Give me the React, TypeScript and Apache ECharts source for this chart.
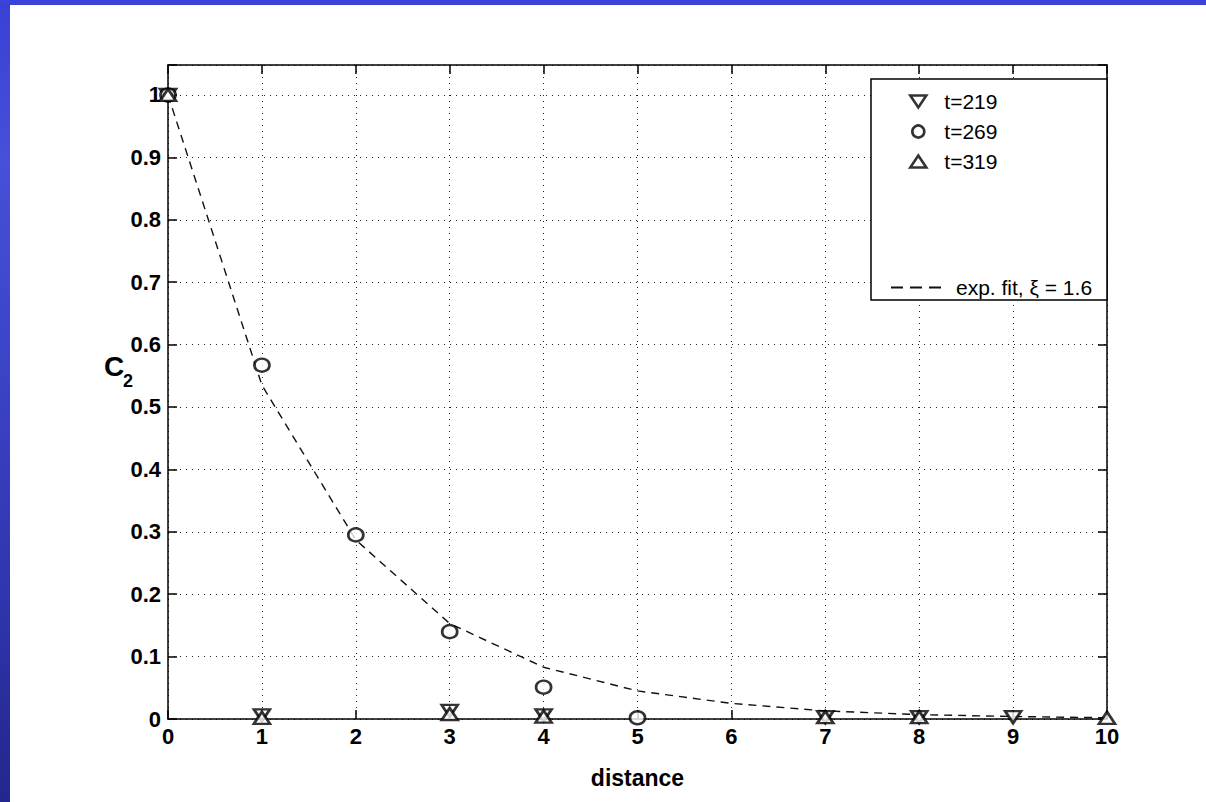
import React, { useEffect, useRef } from "react";
import * as echarts from "echarts";

// Correlation C2 versus distance for three times, with an exponential fit
const xTicks = [0, 1, 2, 3, 4, 5, 6, 7, 8, 9, 10];
const t219X = [0, 1, 3, 4, 7, 8, 9];
const t219Y = [1, 0.006, 0.013, 0.006, 0.003, 0.003, 0.003];
const t269X = [0, 1, 2, 3, 4, 5];
const t269Y = [1, 0.567, 0.295, 0.14, 0.051, 0.002];
const t319X = [0, 1, 3, 4, 7, 8, 10];
const t319Y = [1, 0.002, 0.008, 0.004, 0.003, 0.003, 0.002];
const fitX = xTicks;
const fitY = [1, 0.535, 0.287, 0.153, 0.083, 0.045, 0.025, 0.013, 0.007, 0.004, 0.002];

const zip = (xs: number[], ys: number[]) => xs.map((x, i) => [x, ys[i]]);

const FONT = "'Liberation Sans', Arial, sans-serif";

const DOWN_TRI = "path://M0,0 L16,0 L8,12 Z";
const UP_TRI = "path://M8,0 L16,12 L0,12 Z";
const DASHES = "path://M0,0h12v2h-12zM19,0h12v2h-12zM38,0h12v2h-12z";

export default function App() {
  const ref = useRef<HTMLDivElement>(null);

  useEffect(() => {
    if (!ref.current) return;
    const chart = echarts.init(ref.current, null, { renderer: "svg" });

    const markerStyle = {
      color: "#ffffff",
      borderColor: "#000000",
      borderWidth: 2.6,
    };

    const tickLabel = {
      color: "#000",
      fontFamily: FONT,
      fontSize: 22,
      fontWeight: "bold" as const,
    };

    const yFmt = (v: number) => {
      const r = Math.round(v * 10) / 10;
      if (Math.abs(v - r) > 1e-6) return "";
      return String(r);
    };

    const axisLine = { show: true, onZero: false, lineStyle: { color: "#000", width: 1.5 } };
    const axisTick = { show: true, inside: true, length: 9, lineStyle: { color: "#000", width: 1.5 } };
    const grid = { show: true, lineStyle: { color: "#222", width: 1, type: [1, 5] } };

    chart.setOption({
      animation: false,
      backgroundColor: "#ffffff",
      grid: { left: 168, right: 99, top: 65, bottom: 83, containLabel: false },
      xAxis: [
        {
          type: "value",
          min: 0,
          max: 10,
          interval: 1,
          position: "bottom",
          axisLine,
          axisTick,
          axisLabel: { ...tickLabel, margin: 6 },
          splitLine: grid,
          name: "distance",
          nameLocation: "middle",
          nameGap: 47,
          nameTextStyle: { color: "#000", fontFamily: FONT, fontSize: 23, fontWeight: "bold" },
        },
        {
          type: "value",
          min: 0,
          max: 10,
          interval: 1,
          position: "top",
          axisLine,
          axisTick,
          axisLabel: { show: false },
          splitLine: { show: false },
        },
      ],
      yAxis: [
        {
          type: "value",
          min: 0,
          max: 1.048,
          interval: 0.1,
          position: "left",
          axisLine,
          axisTick,
          axisLabel: { ...tickLabel, margin: 7, formatter: yFmt },
          splitLine: grid,
        },
        {
          type: "value",
          min: 0,
          max: 1.048,
          interval: 0.1,
          position: "right",
          axisLine,
          axisTick,
          axisLabel: { show: false },
          splitLine: { show: false },
        },
      ],
      legend: [
        {
          data: [
            { name: "t=219", icon: DOWN_TRI },
            { name: "t=269", icon: "circle" },
            { name: "t=319", icon: UP_TRI },
          ],
          orient: "vertical",
          left: 904,
          top: 85,
          itemWidth: 16,
          itemHeight: 12,
          itemGap: 7,
          z: 10,
          itemStyle: { color: "#ffffff", borderColor: "#000", borderWidth: 2.6 },
          textStyle: {
            color: "#000",
            fontFamily: FONT,
            fontSize: 21,
            lineHeight: 23,
            padding: [0, 0, 0, 13],
          },
        },
        {
          data: [{ name: "exp. fit, ξ = 1.6", icon: DASHES }],
          left: 886,
          top: 271,
          itemWidth: 50,
          itemHeight: 2,
          z: 10,
          itemStyle: { color: "#111", borderWidth: 0 },
          textStyle: {
            color: "#000",
            fontFamily: FONT,
            fontSize: 21,
            lineHeight: 23,
            padding: [0, 0, 0, 10],
          },
        },
      ],
      graphic: [
        {
          type: "rect",
          z: 0,
          silent: true,
          shape: { x: 0, y: 0, width: 10, height: 802 },
          style: {
            fill: new echarts.graphic.LinearGradient(0, 0, 0, 1, [
              { offset: 0, color: "#3a40d4" },
              { offset: 0.2, color: "#4650d8" },
              { offset: 0.45, color: "#3c44c8" },
              { offset: 0.75, color: "#2f35ac" },
              { offset: 1, color: "#23268c" },
            ]),
          },
        },
        {
          type: "rect",
          z: 0,
          silent: true,
          shape: { x: 0, y: 0, width: 1206, height: 5 },
          style: { fill: "#3a42d8" },
        },
        {
          type: "rect",
          z: 5,
          silent: true,
          shape: { x: 871, y: 79, width: 236, height: 221 },
          style: { fill: "#ffffff", stroke: "#000", lineWidth: 1.5 },
        },
        {
          type: "text",
          z: 5,
          x: 104,
          y: 352,
          style: { text: "C", fill: "#000", font: `bold 28px ${FONT}` },
        },
        {
          type: "text",
          z: 5,
          x: 123,
          y: 372,
          style: { text: "2", fill: "#000", font: `bold 18px ${FONT}` },
        },
      ],
      series: [
        {
          name: "exp. fit, ξ = 1.6",
          type: "line",
          data: zip(fitX, fitY),
          symbol: "none",
          clip: false,
          z: 2,
          itemStyle: { color: "#111" },
          lineStyle: { color: "#111", width: 1.4, type: [8, 6] },
        },
        {
          name: "t=219",
          type: "scatter",
          data: zip(t219X, t219Y),
          symbol: "triangle",
          symbolRotate: 180,
          symbolSize: [16, 12],
          clip: false,
          z: 3,
          itemStyle: markerStyle,
        },
        {
          name: "t=269",
          type: "scatter",
          data: zip(t269X, t269Y),
          symbol: "circle",
          symbolSize: [15, 13],
          clip: false,
          z: 3,
          itemStyle: markerStyle,
        },
        {
          name: "t=319",
          type: "scatter",
          data: zip(t319X, t319Y),
          symbol: "triangle",
          symbolSize: [16, 12],
          clip: false,
          z: 3,
          itemStyle: markerStyle,
        },
      ],
    });

    return () => chart.dispose();
  }, []);

  return (
    <div
      ref={ref}
      style={{ position: "fixed", left: 0, top: 0, width: 1206, height: 802, background: "#fff" }}
    />
  );
}
